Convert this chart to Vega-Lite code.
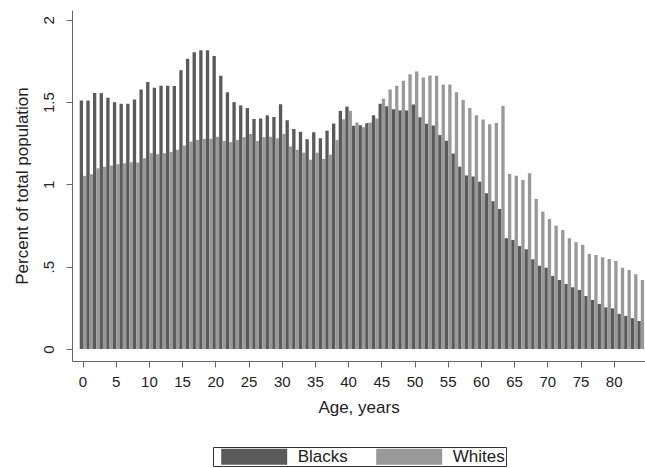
{
  "$schema": "https://vega.github.io/schema/vega-lite/v6.json",
  "autosize": "none",
  "width": 573,
  "height": 351,
  "padding": {"left": 72, "top": 10, "right": 0, "bottom": 107},
  "background": "white",
  "config": {
    "font": "Liberation Sans",
    "view": {"stroke": null},
    "axis": {"grid": false, "domainColor": "#666666", "tickColor": "#666666", "labelColor": "#222222", "titleColor": "#222222", "titleFontWeight": "normal", "tickSize": 6, "labelFontSize": 15, "titleFontSize": 17}
  },
  "data": {
    "values": [
      {"age":0,"group":"Blacks","pct":1.51},{"age":0,"group":"Whites","pct":1.052},
      {"age":1,"group":"Blacks","pct":1.51},{"age":1,"group":"Whites","pct":1.062},
      {"age":2,"group":"Blacks","pct":1.555},{"age":2,"group":"Whites","pct":1.098},
      {"age":3,"group":"Blacks","pct":1.555},{"age":3,"group":"Whites","pct":1.108},
      {"age":4,"group":"Blacks","pct":1.527},{"age":4,"group":"Whites","pct":1.114},
      {"age":5,"group":"Blacks","pct":1.5},{"age":5,"group":"Whites","pct":1.123},
      {"age":6,"group":"Blacks","pct":1.49},{"age":6,"group":"Whites","pct":1.129},
      {"age":7,"group":"Blacks","pct":1.49},{"age":7,"group":"Whites","pct":1.135},
      {"age":8,"group":"Blacks","pct":1.516},{"age":8,"group":"Whites","pct":1.133},
      {"age":9,"group":"Blacks","pct":1.577},{"age":9,"group":"Whites","pct":1.159},
      {"age":10,"group":"Blacks","pct":1.623},{"age":10,"group":"Whites","pct":1.19},
      {"age":11,"group":"Blacks","pct":1.588},{"age":11,"group":"Whites","pct":1.184},
      {"age":12,"group":"Blacks","pct":1.6},{"age":12,"group":"Whites","pct":1.19},
      {"age":13,"group":"Blacks","pct":1.6},{"age":13,"group":"Whites","pct":1.198},
      {"age":14,"group":"Blacks","pct":1.598},{"age":14,"group":"Whites","pct":1.21},
      {"age":15,"group":"Blacks","pct":1.694},{"age":15,"group":"Whites","pct":1.236},
      {"age":16,"group":"Blacks","pct":1.764},{"age":16,"group":"Whites","pct":1.26},
      {"age":17,"group":"Blacks","pct":1.803},{"age":17,"group":"Whites","pct":1.27},
      {"age":18,"group":"Blacks","pct":1.815},{"age":18,"group":"Whites","pct":1.277},
      {"age":19,"group":"Blacks","pct":1.815},{"age":19,"group":"Whites","pct":1.277},
      {"age":20,"group":"Blacks","pct":1.78},{"age":20,"group":"Whites","pct":1.29},
      {"age":21,"group":"Blacks","pct":1.66},{"age":21,"group":"Whites","pct":1.264},
      {"age":22,"group":"Blacks","pct":1.56},{"age":22,"group":"Whites","pct":1.258},
      {"age":23,"group":"Blacks","pct":1.5},{"age":23,"group":"Whites","pct":1.27},
      {"age":24,"group":"Blacks","pct":1.48},{"age":24,"group":"Whites","pct":1.287},
      {"age":25,"group":"Blacks","pct":1.465},{"age":25,"group":"Whites","pct":1.307},
      {"age":26,"group":"Blacks","pct":1.398},{"age":26,"group":"Whites","pct":1.264},
      {"age":27,"group":"Blacks","pct":1.4},{"age":27,"group":"Whites","pct":1.287},
      {"age":28,"group":"Blacks","pct":1.42},{"age":28,"group":"Whites","pct":1.29},
      {"age":29,"group":"Blacks","pct":1.41},{"age":29,"group":"Whites","pct":1.28},
      {"age":30,"group":"Blacks","pct":1.487},{"age":30,"group":"Whites","pct":1.307},
      {"age":31,"group":"Blacks","pct":1.39},{"age":31,"group":"Whites","pct":1.23},
      {"age":32,"group":"Blacks","pct":1.337},{"age":32,"group":"Whites","pct":1.21},
      {"age":33,"group":"Blacks","pct":1.32},{"age":33,"group":"Whites","pct":1.193},
      {"age":34,"group":"Blacks","pct":1.275},{"age":34,"group":"Whites","pct":1.15},
      {"age":35,"group":"Blacks","pct":1.317},{"age":35,"group":"Whites","pct":1.193},
      {"age":36,"group":"Blacks","pct":1.28},{"age":36,"group":"Whites","pct":1.155},
      {"age":37,"group":"Blacks","pct":1.327},{"age":37,"group":"Whites","pct":1.18},
      {"age":38,"group":"Blacks","pct":1.37},{"age":38,"group":"Whites","pct":1.27},
      {"age":39,"group":"Blacks","pct":1.447},{"age":39,"group":"Whites","pct":1.396},
      {"age":40,"group":"Blacks","pct":1.473},{"age":40,"group":"Whites","pct":1.447},
      {"age":41,"group":"Blacks","pct":1.357},{"age":41,"group":"Whites","pct":1.376},
      {"age":42,"group":"Blacks","pct":1.36},{"age":42,"group":"Whites","pct":1.347},
      {"age":43,"group":"Blacks","pct":1.372},{"age":43,"group":"Whites","pct":1.376},
      {"age":44,"group":"Blacks","pct":1.42},{"age":44,"group":"Whites","pct":1.4},
      {"age":45,"group":"Blacks","pct":1.49},{"age":45,"group":"Whites","pct":1.52},
      {"age":46,"group":"Blacks","pct":1.475},{"age":46,"group":"Whites","pct":1.577},
      {"age":47,"group":"Blacks","pct":1.457},{"age":47,"group":"Whites","pct":1.6},
      {"age":48,"group":"Blacks","pct":1.45},{"age":48,"group":"Whites","pct":1.63},
      {"age":49,"group":"Blacks","pct":1.45},{"age":49,"group":"Whites","pct":1.67},
      {"age":50,"group":"Blacks","pct":1.485},{"age":50,"group":"Whites","pct":1.687},
      {"age":51,"group":"Blacks","pct":1.408},{"age":51,"group":"Whites","pct":1.65},
      {"age":52,"group":"Blacks","pct":1.368},{"age":52,"group":"Whites","pct":1.662},
      {"age":53,"group":"Blacks","pct":1.358},{"age":53,"group":"Whites","pct":1.661},
      {"age":54,"group":"Blacks","pct":1.3},{"age":54,"group":"Whites","pct":1.608},
      {"age":55,"group":"Blacks","pct":1.266},{"age":55,"group":"Whites","pct":1.608},
      {"age":56,"group":"Blacks","pct":1.188},{"age":56,"group":"Whites","pct":1.56},
      {"age":57,"group":"Blacks","pct":1.108},{"age":57,"group":"Whites","pct":1.514},
      {"age":58,"group":"Blacks","pct":1.054},{"age":58,"group":"Whites","pct":1.465},
      {"age":59,"group":"Blacks","pct":1.048},{"age":59,"group":"Whites","pct":1.42},
      {"age":60,"group":"Blacks","pct":1.017},{"age":60,"group":"Whites","pct":1.394},
      {"age":61,"group":"Blacks","pct":0.946},{"age":61,"group":"Whites","pct":1.366},
      {"age":62,"group":"Blacks","pct":0.898},{"age":62,"group":"Whites","pct":1.374},
      {"age":63,"group":"Blacks","pct":0.851},{"age":63,"group":"Whites","pct":1.477},
      {"age":64,"group":"Blacks","pct":0.673},{"age":64,"group":"Whites","pct":1.064},
      {"age":65,"group":"Blacks","pct":0.663},{"age":65,"group":"Whites","pct":1.053},
      {"age":66,"group":"Blacks","pct":0.626},{"age":66,"group":"Whites","pct":1.027},
      {"age":67,"group":"Blacks","pct":0.606},{"age":67,"group":"Whites","pct":1.068},
      {"age":68,"group":"Blacks","pct":0.545},{"age":68,"group":"Whites","pct":0.912},
      {"age":69,"group":"Blacks","pct":0.506},{"age":69,"group":"Whites","pct":0.835},
      {"age":70,"group":"Blacks","pct":0.494},{"age":70,"group":"Whites","pct":0.79},
      {"age":71,"group":"Blacks","pct":0.444},{"age":71,"group":"Whites","pct":0.75},
      {"age":72,"group":"Blacks","pct":0.419},{"age":72,"group":"Whites","pct":0.723},
      {"age":73,"group":"Blacks","pct":0.395},{"age":73,"group":"Whites","pct":0.673},
      {"age":74,"group":"Blacks","pct":0.375},{"age":74,"group":"Whites","pct":0.649},
      {"age":75,"group":"Blacks","pct":0.359},{"age":75,"group":"Whites","pct":0.632},
      {"age":76,"group":"Blacks","pct":0.322},{"age":76,"group":"Whites","pct":0.578},
      {"age":77,"group":"Blacks","pct":0.298},{"age":77,"group":"Whites","pct":0.571},
      {"age":78,"group":"Blacks","pct":0.274},{"age":78,"group":"Whites","pct":0.557},
      {"age":79,"group":"Blacks","pct":0.253},{"age":79,"group":"Whites","pct":0.547},
      {"age":80,"group":"Blacks","pct":0.247},{"age":80,"group":"Whites","pct":0.535},
      {"age":81,"group":"Blacks","pct":0.213},{"age":81,"group":"Whites","pct":0.494},
      {"age":82,"group":"Blacks","pct":0.201},{"age":82,"group":"Whites","pct":0.48},
      {"age":83,"group":"Blacks","pct":0.187},{"age":83,"group":"Whites","pct":0.454},
      {"age":84,"group":"Blacks","pct":0.17},{"age":84,"group":"Whites","pct":0.419}
    ]
  },
  "mark": {"type": "bar", "strokeWidth": 0},
  "encoding": {
    "x": {
      "field": "age",
      "type": "ordinal",
      "scale": {"paddingInner": 0, "paddingOuter": 0.648, "align": 0.895},
      "axis": {
        "values": [0,5,10,15,20,25,30,35,40,45,50,55,60,65,70,75,80],
        "labelAngle": 0,
        "labelPadding": 7,
        "title": "Age, years",
        "titlePadding": 10
      }
    },
    "xOffset": {
      "field": "group",
      "type": "nominal",
      "sort": ["Blacks", "Whites"],
      "scale": {"paddingInner": 0, "paddingOuter": 0}
    },
    "y": {
      "field": "pct",
      "type": "quantitative",
      "scale": {"domain": [-0.073, 2.06], "zero": false, "nice": false},
      "axis": {
        "values": [0, 0.5, 1, 1.5, 2],
        "labelExpr": "datum.value == 0.5 ? '.5' : datum.value == 1.5 ? '1.5' : format(datum.value, 'd')",
        "labelAngle": 270,
        "labelPadding": 10,
        "title": "Percent of total population",
        "titlePadding": 10
      }
    },
    "y2": {"datum": 0},
    "color": {
      "field": "group",
      "type": "nominal",
      "scale": {"domain": ["Blacks", "Whites"], "range": ["#5a5a5a", "#999999"]},
      "legend": {
        "orient": "none",
        "legendX": 141,
        "legendY": 437,
        "direction": "horizontal",
        "title": null,
        "strokeColor": "#333333",
        "fillColor": "white",
        "padding": 1,
        "symbolType": "M-4.125,-1H4.125V1H-4.125Z",
        "symbolSize": 256,
        "symbolOffset": 31.7,
        "symbolStrokeWidth": 0,
        "symbolOpacity": 1,
        "labelFontSize": 17,
        "labelColor": "#222222",
        "labelOffset": 35,
        "columnPadding": 21
      }
    }
  }
}
